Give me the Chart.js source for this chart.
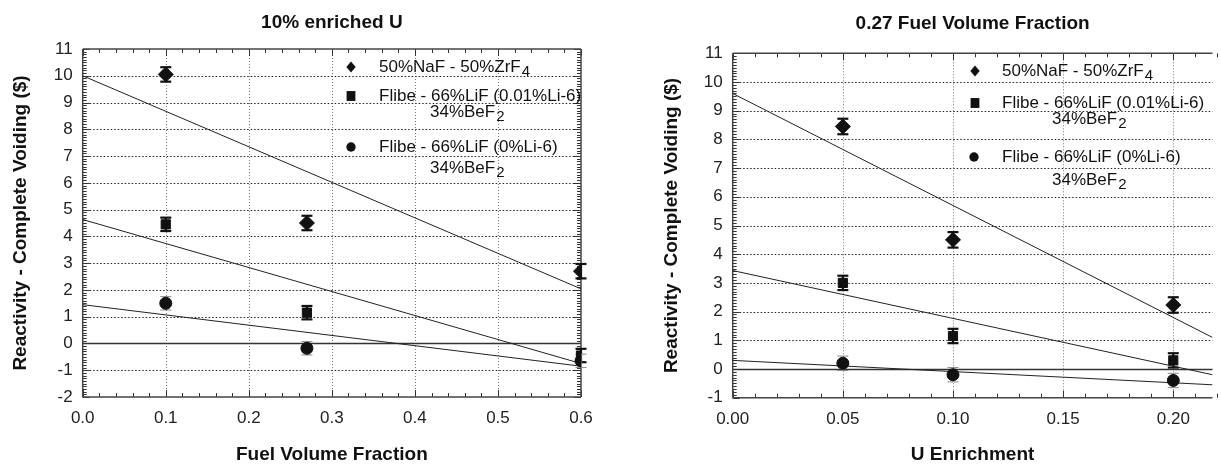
<!DOCTYPE html>
<html>
<head>
<meta charset="utf-8">
<script src="https://cdn.jsdelivr.net/npm/chart.js@4.4.1/dist/chart.umd.min.js"></script>
<style>
  html, body { margin: 0; padding: 0; background: #fff; }
  #wrap { position: relative; width: 1221px; height: 466px; overflow: hidden; }
  #c1 { position: absolute; left: 0; top: 0; }
  #c2 { position: absolute; left: 610px; top: 0; }
</style>
</head>
<body>
<div id="wrap">
  <canvas id="c1" width="610" height="466"></canvas>
  <canvas id="c2" width="611" height="466"></canvas>
</div>
<script>
// left panel: 10% enriched U, vs fuel volume fraction
var fvfX = [0.1, 0.27, 0.6];
var fvfNaF = [10.05, 4.5, 2.7];
var fvfFlibeLi6 = [4.45, 1.15, -0.45];
var fvfFlibeNoLi6 = [1.5, -0.18, -0.65];
var fvfFitX = [0, 0.6];
var fvfFitNaF = [10.0, 2.04];
var fvfFitFlibeLi6 = [4.63, -0.75];
var fvfFitFlibeNoLi6 = [1.45, -0.85];

// right panel: 0.27 fuel volume fraction, vs U enrichment
var enrX = [0.05, 0.1, 0.2];
var enrNaF = [8.45, 4.5, 2.23];
var enrFlibeLi6 = [3.0, 1.15, 0.3];
var enrFlibeNoLi6 = [0.2, -0.2, -0.4];
var enrFitX = [0, 0.2178];
var enrFitNaF = [9.6, 1.1];
var enrFitFlibeLi6 = [3.43, -0.2];
var enrFitFlibeNoLi6 = [0.3, -0.55];

var errNaF = 0.27;
var errFlibeLi6 = 0.25;
var errFlibeNoLi6 = 0.25;

var legendNames = ["50%NaF - 50%ZrF_4", "Flibe - 66%LiF (0.01%Li-6)", "Flibe - 66%LiF (0%Li-6)"];
var legendSecond = "34%BeF_2";

var FONT = "'Liberation Sans', Arial, Helvetica, sans-serif";

function pts(xs, ys) {
  return xs.map(function (x, i) { return { x: x, y: ys[i] }; });
}

function line(ctx, x1, y1, x2, y2) {
  ctx.beginPath();
  ctx.moveTo(x1, y1);
  ctx.lineTo(x2, y2);
  ctx.stroke();
}

function marker(ctx, style, x, y, r) {
  ctx.fillStyle = "#111";
  ctx.beginPath();
  if (style === "diamond") {
    ctx.moveTo(x, y - r); ctx.lineTo(x + r * 0.85, y); ctx.lineTo(x, y + r); ctx.lineTo(x - r * 0.85, y);
    ctx.closePath();
  } else if (style === "square") {
    ctx.rect(x - r * 0.8, y - r * 0.9, r * 1.6, r * 1.8);
  } else {
    ctx.arc(x, y, r * 0.85, 0, Math.PI * 2);
  }
  ctx.fill();
}

// text with "_x" meaning subscript x
function richText(ctx, s, x, y, size) {
  var parts = s.split("_");
  ctx.font = size + "px " + FONT;
  ctx.textBaseline = "middle";
  ctx.textAlign = "left";
  ctx.fillStyle = "#111";
  ctx.fillText(parts[0], x, y);
  var w = ctx.measureText(parts[0]).width;
  if (parts.length > 1) {
    ctx.font = Math.round(size * 0.9) + "px " + FONT;
    ctx.fillText(parts[1], x + w + 1, y + size * 0.3);
  }
}

var framePlugin = {
  id: "frame",
  beforeDatasetsDraw: function (chart, args, o) {
    var ctx = chart.ctx, a = chart.chartArea, xs = chart.scales.x, ys = chart.scales.y;
    ctx.save();
    // dotted grid
    xs.ticks.forEach(function (t) {
      var px = Math.round(xs.getPixelForValue(t.value)) + 0.5;
      if (px <= a.left + 2 || px >= a.right - 2) return;
      ctx.strokeStyle = "#777"; ctx.lineWidth = 1; ctx.setLineDash([1, 2]);
      line(ctx, px, a.top, px, a.bottom);
    });
    ys.ticks.forEach(function (t) {
      var py = Math.round(ys.getPixelForValue(t.value)) + 0.5;
      if (py <= a.top + 2 || py >= a.bottom - 2) return;
      if (Math.abs(t.value) < 1e-9) {
        ctx.setLineDash([]); ctx.strokeStyle = "#333"; ctx.lineWidth = 1.5;
      } else {
        ctx.setLineDash([1.5, 2]); ctx.strokeStyle = "#222"; ctx.lineWidth = 1;
      }
      line(ctx, a.left, py, a.right, py);
    });
    ctx.setLineDash([]);
    // inward ticks
    ctx.strokeStyle = "#333"; ctx.lineWidth = 1;
    var n, i, v, p, major;
    n = Math.round((xs.max - xs.min) / o.xMinor);
    for (i = 0; i <= n; i++) {
      v = xs.min + i * o.xMinor;
      p = Math.round(xs.getPixelForValue(v)) + 0.5;
      major = Math.abs(v / o.xMajor - Math.round(v / o.xMajor)) < 1e-6;
      var lx = major ? 7 : 4;
      line(ctx, p, a.bottom, p, a.bottom - lx);
      line(ctx, p, a.top, p, a.top + lx);
    }
    n = Math.round((ys.max - ys.min) / o.yMinor);
    for (i = 0; i <= n; i++) {
      v = ys.min + i * o.yMinor;
      p = Math.round(ys.getPixelForValue(v)) + 0.5;
      major = Math.abs(v - Math.round(v)) < 1e-6;
      var ly = major ? 7 : 4;
      line(ctx, a.left, p, a.left + ly, p);
      if (!o.openRight) line(ctx, a.right, p, a.right - ly, p);
    }
    // box
    ctx.strokeStyle = "#444"; ctx.lineWidth = 1.5;
    line(ctx, a.left, a.top, a.right, a.top);
    line(ctx, a.left, a.bottom, a.right, a.bottom);
    line(ctx, a.left, a.top, a.left, a.bottom);
    if (!o.openRight) line(ctx, a.right, a.top, a.right, a.bottom);
    // error bars
    chart.data.datasets.forEach(function (ds) {
      if (ds.err === undefined) return;
      ctx.strokeStyle = ds.errColor;
      ds.data.forEach(function (d) {
        var px = xs.getPixelForValue(d.x);
        var y1 = ys.getPixelForValue(d.y + ds.err), y2 = ys.getPixelForValue(d.y - ds.err);
        ctx.lineWidth = ds.errWidth;
        line(ctx, px, y1, px, y2);
        line(ctx, px - 5.5, y1, px + 5.5, y1);
        line(ctx, px - 5.5, y2, px + 5.5, y2);
      });
    });
    ctx.restore();
  },
  afterDatasetsDraw: function (chart, args, o) {
    var ctx = chart.ctx;
    ctx.save();
    o.keys.forEach(function (k) {
      marker(ctx, k.style, k.mx, k.my, 5.5);
      k.lines.forEach(function (l) { richText(ctx, l.t, l.x, l.y, 17); });
    });
    ctx.restore();
  }
};

function makeChart(id, c) {
  return new Chart(document.getElementById(id).getContext("2d"), {
    type: "scatter",
    data: {
      datasets: [
        { data: pts(c.x, c.naf), pointStyle: "rectRot", pointRadius: 7.5, backgroundColor: "#111", borderColor: "#111", err: errNaF, errColor: "#111", errWidth: 2.2 },
        { data: pts(c.x, c.li6), pointStyle: "rect", pointRadius: 6.5, backgroundColor: "#111", borderColor: "#111", err: errFlibeLi6, errColor: "#111", errWidth: 2.2 },
        { data: pts(c.x, c.noLi6), pointStyle: "circle", pointRadius: 6, backgroundColor: "#111", borderColor: "#111", err: errFlibeNoLi6, errColor: "#888", errWidth: 1 },
        { data: pts(c.fitX, c.fitNaf), showLine: true, pointRadius: 0, borderColor: "#222", borderWidth: 1 },
        { data: pts(c.fitX, c.fitLi6), showLine: true, pointRadius: 0, borderColor: "#222", borderWidth: 1 },
        { data: pts(c.fitX, c.fitNoLi6), showLine: true, pointRadius: 0, borderColor: "#222", borderWidth: 1 }
      ]
    },
    options: {
      responsive: false,
      animation: false,
      layout: { padding: c.pad },
      scales: {
        x: {
          type: "linear", min: c.xMin, max: c.xMax,
          grid: { display: false, drawTicks: false },
          border: { display: false },
          afterFit: function (s) { s.height = c.xHeight; },
          ticks: {
            stepSize: c.xStep, includeBounds: false, padding: 11, color: "#222",
            font: { family: FONT, size: 17 },
            callback: function (v) { return v.toFixed(c.xDigits); }
          },
          title: { display: true, text: c.xTitle, color: "#111", padding: { top: 0, bottom: 0 }, font: { family: FONT, size: 19, weight: "bold" } }
        },
        y: {
          min: c.yMin, max: 11,
          grid: { display: false, drawTicks: false },
          border: { display: false },
          afterFit: function (s) { s.width = c.yWidth; },
          ticks: { stepSize: 1, padding: 10, color: "#222", font: { family: FONT, size: 17 } },
          title: { display: true, text: "Reactivity - Complete Voiding ($)", color: "#111", padding: { top: 9, bottom: 0 }, font: { family: FONT, size: 19, weight: "bold" } }
        }
      },
      plugins: {
        legend: { display: false },
        tooltip: { enabled: false },
        title: {
          display: true, text: c.title, fullSize: false, color: "#111",
          padding: c.titlePad, font: { family: FONT, size: 19, weight: "bold" }
        },
        frame: { xMinor: c.xMinor, xMajor: c.xStep, yMinor: 0.1, openRight: c.openRight, keys: c.keys }
      }
    },
    plugins: [framePlugin]
  });
}

makeChart("c1", {
  x: fvfX, naf: fvfNaF, li6: fvfFlibeLi6, noLi6: fvfFlibeNoLi6,
  fitX: fvfFitX, fitNaf: fvfFitNaF, fitLi6: fvfFitFlibeLi6, fitNoLi6: fvfFitFlibeNoLi6,
  xMin: 0, xMax: 0.6, xStep: 0.1, xMinor: 0.02, xDigits: 1, yMin: -2,
  xTitle: "Fuel Volume Fraction", title: "10% enriched U",
  pad: { left: 0, right: 29, top: 0, bottom: 0 }, yWidth: 82.7, xHeight: 69,
  titlePad: { top: 11.6, bottom: 14.6 }, openRight: false,
  keys: [
    { style: "diamond", mx: 351, my: 67, lines: [{ t: legendNames[0], x: 379, y: 67 }] },
    { style: "square", mx: 351, my: 96, lines: [{ t: legendNames[1], x: 379, y: 96 }, { t: legendSecond, x: 430, y: 112 }] },
    { style: "circle", mx: 351, my: 147, lines: [{ t: legendNames[2], x: 379, y: 147 }, { t: legendSecond, x: 430, y: 168 }] }
  ]
});

makeChart("c2", {
  x: enrX, naf: enrNaF, li6: enrFlibeLi6, noLi6: enrFlibeNoLi6,
  fitX: enrFitX, fitNaf: enrFitNaF, fitLi6: enrFitFlibeLi6, fitNoLi6: enrFitFlibeNoLi6,
  xMin: 0, xMax: 0.2178, xStep: 0.05, xMinor: 0.01, xDigits: 2, yMin: -1,
  xTitle: "U Enrichment", title: "0.27 Fuel Volume Fraction",
  pad: { left: 41, right: 0, top: 0, bottom: 0 }, yWidth: 81.7, xHeight: 68.3,
  titlePad: { top: 12.2, bottom: 18.3 }, openRight: true,
  keys: [
    { style: "diamond", mx: 365, my: 71, lines: [{ t: legendNames[0], x: 392, y: 71 }] },
    { style: "square", mx: 365, my: 103, lines: [{ t: legendNames[1], x: 392, y: 103 }, { t: legendSecond, x: 442, y: 119 }] },
    { style: "circle", mx: 364, my: 157, lines: [{ t: legendNames[2], x: 392, y: 157 }, { t: legendSecond, x: 442, y: 180 }] }
  ]
});
</script>
</body>
</html>
